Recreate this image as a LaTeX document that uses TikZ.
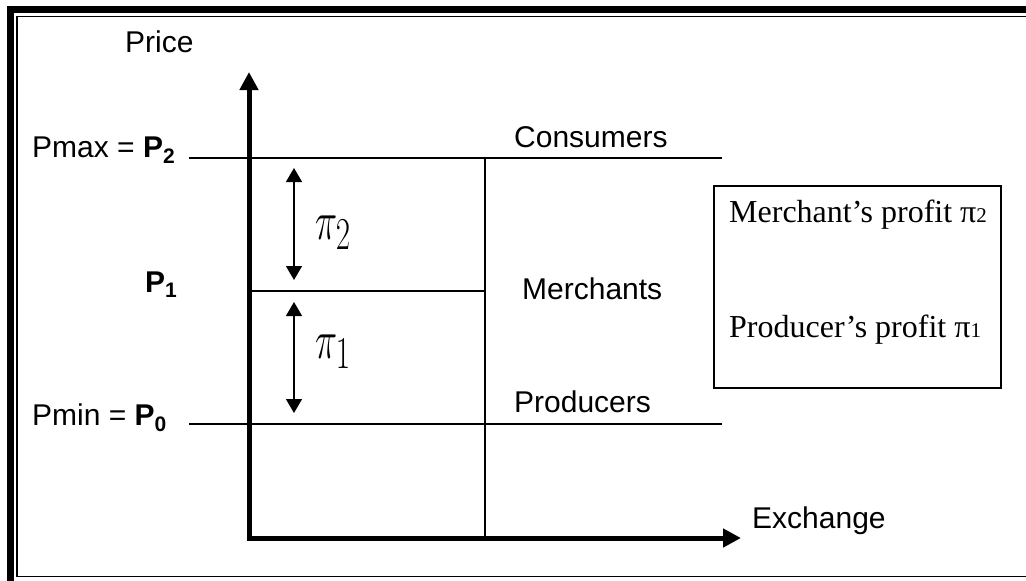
\documentclass[tikz,border=0pt]{standalone}
\usepackage{graphicx}
\usepackage{fontspec}
\setmainfont{Liberation Sans}
\newfontfamily\boxfont{Liberation Serif}
\usetikzlibrary{arrows.meta}
\newcommand{\bigpi}[1]{\scalebox{1.5}[2.2]{$\pi_{#1}$}}
\begin{document}
\begin{tikzpicture}[x=1pt,y=-1pt,
  lbl/.style={anchor=base west,inner sep=0pt,font=\fontsize{30}{35}\selectfont},
  boxtxt/.style={anchor=base west,inner sep=0pt,font=\boxfont\fontsize{32}{38}\selectfont},
  pilbl/.style={anchor=base west,inner sep=0pt,font=\fontsize{24.88}{30}\selectfont},
  thin/.style={line width=1.4pt},
  axis/.style={line width=5pt,line join=miter,{Triangle[length=18pt,width=18pt]}-{Triangle[length=18pt,width=18pt]}},
  dbl/.style={line width=1.4pt,{Triangle[length=14pt,width=16pt]}-{Triangle[length=14pt,width=16pt]}}]
\useasboundingbox (0,0) rectangle (1026,581);
% frame
\fill (7,6) rectangle (14,581);
\fill (7,6) rectangle (1026,13);
\draw[line width=1.6pt] (1026,16.5) -- (17,16.5) -- (17,576.5) -- (1026,576.5);
% coordinates
\coordinate (ytop) at (249,72);
\coordinate (origin) at (249,538);
\coordinate (xend) at (741,538);
\coordinate (p2l) at (189,158);
\coordinate (p2r) at (722,158);
\coordinate (p0l) at (189,424);
\coordinate (p0r) at (722,424);
\coordinate (p1l) at (249,291);
\coordinate (p1r) at (485,291);
\coordinate (vt) at (485,158);
\coordinate (vb) at (485,538);
\coordinate (a2t) at (294,168);
\coordinate (a2b) at (294,280);
\coordinate (a1t) at (294,302);
\coordinate (a1b) at (294,413);
% lines
\draw[thin] (p2l) -- (p2r);
\draw[thin] (p0l) -- (p0r);
\draw[thin] (p1l) -- (p1r);
\draw[thin] (vt) -- (vb);
\draw[axis] (ytop) -- (origin) -- (xend);
\draw[dbl] (a2t) -- (a2b);
\draw[dbl] (a1t) -- (a1b);
% labels
\node[lbl] (price) at (125,52) {Price};
\node[lbl] (pmax) at (32,157) {Pmax = \textbf{P\textsubscript{2}}};
\node[lbl] (p1) at (145,292) {\textbf{P\textsubscript{1}}};
\node[lbl] (pmin) at (32,425) {Pmin = \textbf{P\textsubscript{0}}};
\node[lbl] (cons) at (514,147) {Consumers};
\node[lbl] (merch) at (522,299) {Merchants};
\node[lbl] (prod) at (514,412) {Producers};
\node[lbl] (exch) at (752,528) {Exchange};
\node[pilbl] (pi2) at (315,239) {\bigpi{2}};
\node[pilbl] (pi1) at (315,358) {\bigpi{1}};
% legend box
\draw[thin] (714,186) rectangle (1001,388);
\node[boxtxt] (mp) at (729,222) {Merchant’s profit π{\fontsize{21}{22}\selectfont 2}};
\node[boxtxt] (pp) at (729,337) {Producer’s profit π{\fontsize{21}{22}\selectfont 1}};
\end{tikzpicture}
\end{document}
